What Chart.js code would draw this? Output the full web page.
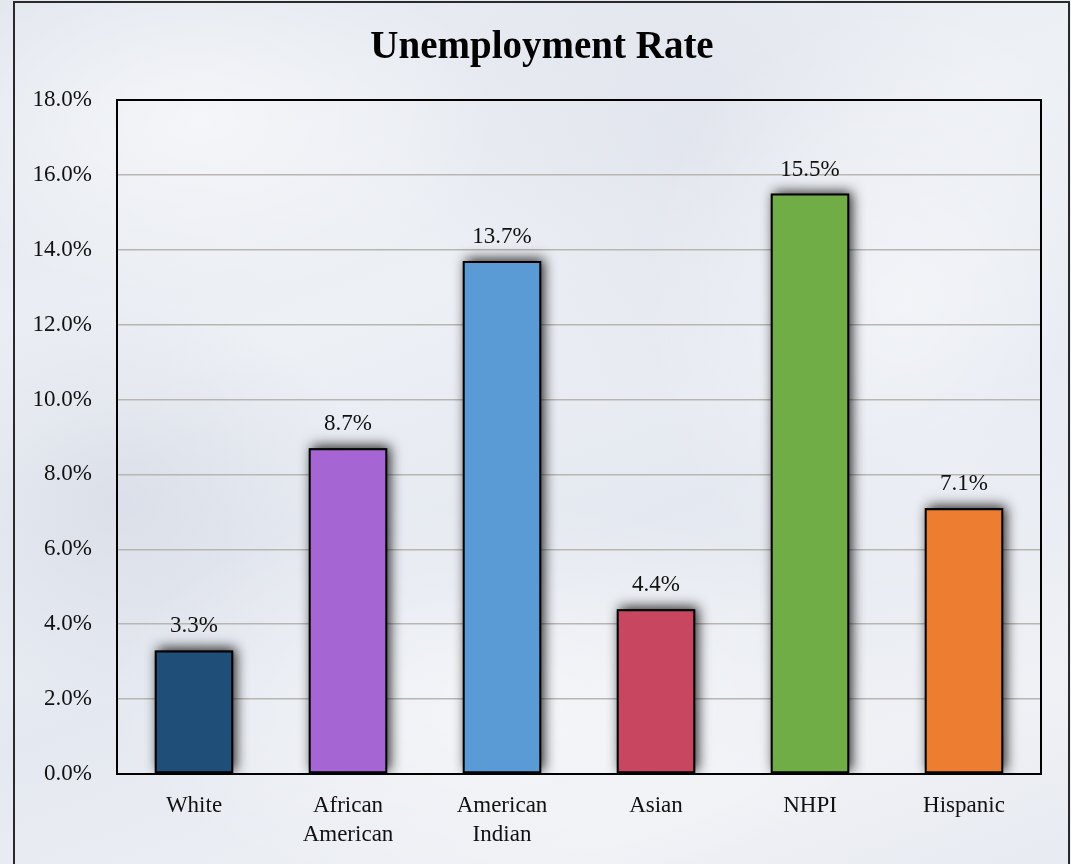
<!DOCTYPE html>
<html>
<head>
<meta charset="utf-8">
<script src="https://cdn.jsdelivr.net/npm/chart.js@4/dist/chart.umd.min.js"></script>
<style>
  html, body { margin: 0; padding: 0; }
  body {
    width: 1071px; height: 864px; overflow: hidden;
    background:
      radial-gradient(ellipse 300px 180px at 200px 120px, rgba(255,255,255,0.55), rgba(255,255,255,0)),
      radial-gradient(ellipse 260px 300px at 900px 300px, rgba(255,255,255,0.45), rgba(255,255,255,0)),
      radial-gradient(ellipse 400px 200px at 500px 700px, rgba(255,255,255,0.5), rgba(255,255,255,0)),
      radial-gradient(ellipse 250px 200px at 120px 500px, rgba(200,206,220,0.45), rgba(200,206,220,0)),
      radial-gradient(ellipse 300px 250px at 700px 150px, rgba(205,210,224,0.35), rgba(205,210,224,0)),
      linear-gradient(160deg, #e2e6ee 0%, #edf0f5 35%, #e4e8f0 60%, #eff1f5 85%, #e7eaf1 100%);
  }
  #wrap { position: absolute; left: 0; top: 0; width: 1071px; height: 864px; }
</style>
</head>
<body>
<div id="wrap"><canvas id="c" width="1071" height="864"></canvas></div>
<script>
const categories = [["White"], ["African", "American"], ["American", "Indian"], ["Asian"], ["NHPI"], ["Hispanic"]];
const values = [3.3, 8.7, 13.7, 4.4, 15.5, 7.1];
const barColors = ["#1f4e79", "#a566d3", "#5b9bd5", "#c8465f", "#70ad47", "#ed7d31"];
const titleText = "Unemployment Rate";
const yMin = 0, yMax = 18, yStep = 2;

const serif = "'Liberation Serif', 'Times New Roman', serif";

const framePlugin = {
  id: 'frame',
  beforeDraw(chart) {
    const ctx = chart.ctx;
    ctx.save();
    ctx.strokeStyle = '#2a2a2a';
    ctx.lineWidth = 2;
    ctx.strokeRect(14, 2, 1055, 880);
    ctx.fillStyle = '#000';
    ctx.font = "bold 39px " + serif;
    ctx.textAlign = 'center';
    ctx.textBaseline = 'alphabetic';
    ctx.fillText(titleText, 542, 58);
    ctx.restore();
  },
  beforeDatasetsDraw(chart) {
    const ctx = chart.ctx, a = chart.chartArea;
    ctx.save();
    ctx.strokeStyle = '#000';
    ctx.lineWidth = 2;
    ctx.strokeRect(a.left, a.top, a.right - a.left, a.bottom - a.top);
    ctx.restore();
    const meta = chart.getDatasetMeta(0);
    ctx.save();
    ctx.beginPath();
    ctx.rect(a.left, a.top - 20, a.right - a.left, a.bottom - a.top + 19);
    ctx.clip();
    ctx.shadowColor = 'rgba(0,0,0,0.85)';
    ctx.shadowBlur = 12;
    ctx.shadowOffsetX = 3;
    ctx.shadowOffsetY = -2;
    ctx.fillStyle = '#000';
    meta.data.forEach((bar) => {
      const p = bar.getProps(['x', 'y', 'base', 'width'], true);
      ctx.fillRect(p.x - p.width / 2, p.y, p.width, p.base - p.y);
    });
    ctx.restore();
  },
  afterDatasetsDraw(chart) {
    const ctx = chart.ctx;
    const meta = chart.getDatasetMeta(0);
    ctx.save();
    ctx.fillStyle = '#111';
    ctx.font = "23px " + serif;
    ctx.textAlign = 'center';
    ctx.textBaseline = 'alphabetic';
    meta.data.forEach((bar, i) => {
      const v = chart.data.datasets[0].data[i];
      ctx.fillText(v.toFixed(1) + '%', bar.x, bar.y - 18);
    });
    ctx.restore();
  }
};

new Chart(document.getElementById('c'), {
  type: 'bar',
  data: {
    labels: categories,
    datasets: [{
      data: values,
      backgroundColor: barColors,
      borderColor: '#000',
      borderWidth: 2,
      borderSkipped: false,
      barPercentage: 0.51,
      categoryPercentage: 1.0
    }]
  },
  options: {
    responsive: false,
    animation: false,
    devicePixelRatio: 1,
    layout: { padding: { left: 0, right: 30, top: 100, bottom: 0 } },
    plugins: {
      legend: { display: false },
      tooltip: { enabled: false },
      title: { display: false }
    },
    scales: {
      x: {
        grid: { display: false, drawTicks: false },
        border: { display: false },
        ticks: {
          color: '#111',
          font: { family: serif, size: 23, lineHeight: 1.27 },
          padding: 17,
          maxRotation: 0,
          autoSkip: false
        },
        afterFit(scale) { scale.height = 90; }
      },
      y: {
        min: yMin, max: yMax,
        grid: { color: '#b9b5b1', lineWidth: 1.5, drawTicks: false },
        border: { display: false },
        ticks: {
          stepSize: yStep,
          color: '#111',
          font: { family: serif, size: 23 },
          padding: 25,
          callback: (v) => Number(v).toFixed(1) + '%'
        },
        afterFit(scale) { scale.width = 117; }
      }
    }
  },
  plugins: [framePlugin]
});
</script>
</body>
</html>
